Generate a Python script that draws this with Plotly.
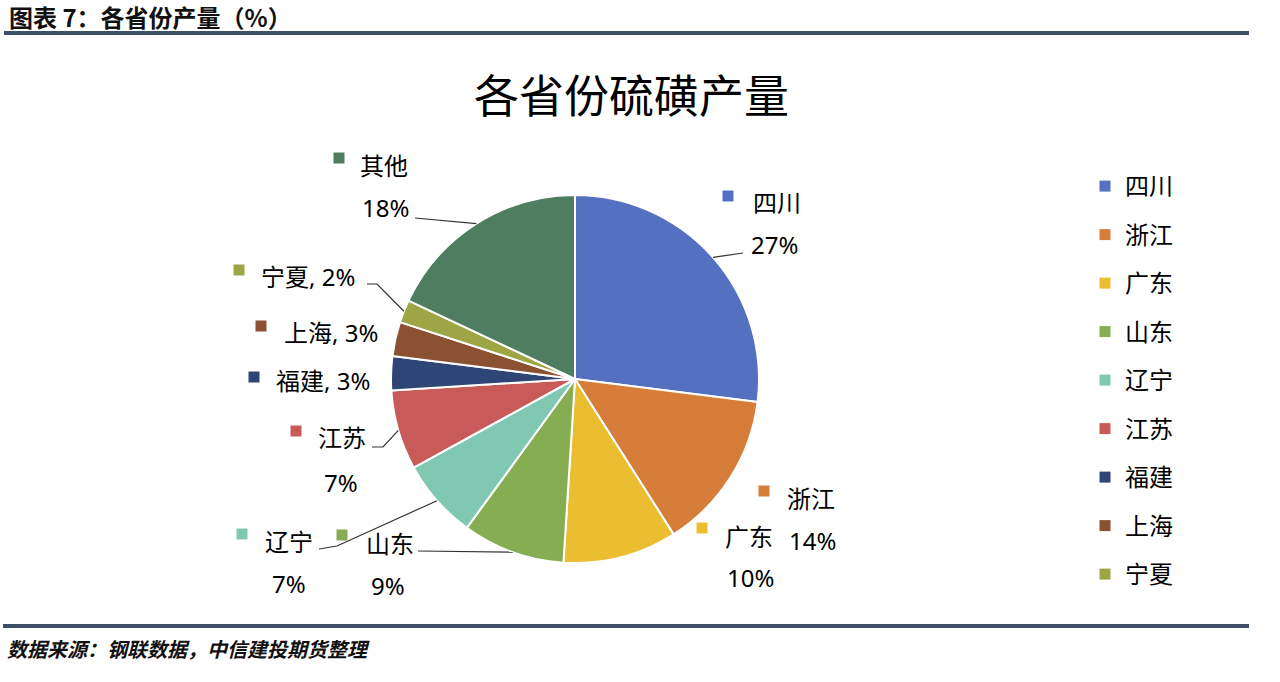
import math
import plotly.graph_objects as go

W, H = 1280, 682

# ---------------- data ----------------
provinces = ["四川", "浙江", "广东", "山东", "辽宁", "江苏", "福建", "上海", "宁夏", "其他"]
shares = [27, 14, 10, 9, 7, 7, 3, 3, 2, 18]
legend_names = ["四川", "浙江", "广东", "山东", "辽宁", "江苏", "福建", "上海", "宁夏"]

header_text = "图表 7：各省份产量（%）"
chart_title = "各省份硫磺产量"
source_text = "数据来源：钢联数据，中信建投期货整理"

# ---------------- style ----------------
colors = ["#5470C0", "#D67D3A", "#EBBE32", "#86AD52", "#80C8B1",
          "#C95A5A", "#2F4576", "#8C5133", "#9DA545", "#4F7D5F"]
CJK = "Noto Sans CJK SC"
LBL_FONT = "Noto Sans, Noto Sans CJK SC"
BAR_COLOR = "#3F4F65"

CX, CY, R = 575, 379, 184  # pie centre / radius in pixels


def px(x):
    return x / W


def py(y):
    return 1 - y / H


# label layout (pixel positions): square centre, name anchor, pct centre, leader knees
label_layout = {
    "四川": dict(sq=(728, 196), name=(751, 203), pct=(774, 244), knees=[(743, 253)]),
    "浙江": dict(sq=(764, 491), name=(785, 498), pct=(812, 540), knees=None),
    "广东": dict(sq=(702, 528), name=(723, 536), pct=(750, 577), knees=None),
    "山东": dict(sq=(342, 535), name=(364, 543), pct=(388, 585), knees=[(418, 551)]),
    "辽宁": dict(sq=(242, 534), name=(263, 541), pct=(289, 583), knees=[(319, 549), (337, 546)]),
    "江苏": dict(sq=(296, 431), name=(316, 437), pct=(341, 482), knees=[(372, 447), (383, 447)]),
    "福建": dict(sq=(254, 377), name=(274, 381), pct=None, knees=None),
    "上海": dict(sq=(261, 326), name=(282, 332), pct=None, knees=None),
    "宁夏": dict(sq=(239, 270), name=(259, 276), pct=None, knees=[(367, 284), (377, 284)]),
    "其他": dict(sq=(339, 158), name=(358, 165), pct=(385, 208), knees=[(415, 218)]),
}

fig = go.Figure()

fig.add_trace(go.Pie(
    labels=provinces, values=shares, sort=False, direction="clockwise", rotation=0,
    marker=dict(colors=colors, line=dict(color="white", width=2)),
    textinfo="none", hoverinfo="label+percent", showlegend=False,
    domain=dict(x=[px(CX - R), px(CX + R)], y=[py(CY + R), py(CY - R)]),
))

# legend entries (其他 is not shown in the reference legend)
for name in legend_names:
    c = colors[provinces.index(name)]
    fig.add_trace(go.Scatter(
        x=[None], y=[None], mode="markers", name=name, legendgroup=name,
        marker=dict(symbol="square", size=11, color=c), hoverinfo="skip",
    ))

annotations = []
shapes = []

# header / footer
annotations.append(dict(text="<b>" + header_text + "</b>", x=px(7), y=py(17), xref="paper", yref="paper",
                        xanchor="left", yanchor="middle", showarrow=False,
                        font=dict(family=CJK, size=24, color="#111111")))
annotations.append(dict(text="<b><i>" + source_text + "</i></b>", x=px(5), y=py(648), xref="paper", yref="paper",
                        xanchor="left", yanchor="middle", showarrow=False,
                        font=dict(family=CJK, size=20, color="#111111")))
shapes.append(dict(type="line", xref="paper", yref="paper", x0=px(4), x1=px(1249), y0=py(33), y1=py(33),
                   line=dict(color=BAR_COLOR, width=4)))
shapes.append(dict(type="line", xref="paper", yref="paper", x0=px(3), x1=px(1249), y0=py(626), y1=py(626),
                   line=dict(color=BAR_COLOR, width=4)))

# chart title
annotations.append(dict(text=chart_title, x=px(631), y=py(94), xref="paper", yref="paper",
                        xanchor="center", yanchor="middle", showarrow=False,
                        font=dict(family=CJK, size=45, color="#000000")))

# data labels
total = sum(shares)
cum = 0.0
for name, val, col in zip(provinces, shares, colors):
    mid = (cum + val / 2) / total
    cum += val
    lay = label_layout[name]
    pct = f"{round(100 * val / total)}%"
    sx, sy = lay["sq"]
    shapes.append(dict(type="rect", xref="paper", yref="paper",
                       x0=px(sx - 5.5), x1=px(sx + 5.5), y0=py(sy + 5.5), y1=py(sy - 5.5),
                       fillcolor=col, line=dict(width=0)))
    nx, ny = lay["name"]
    if lay["pct"] is None:
        txt = f"{name}, {pct}"
    else:
        txt = name
    annotations.append(dict(text=txt, x=px(nx), y=py(ny), xref="paper", yref="paper",
                            xanchor="left", yanchor="middle", showarrow=False,
                            font=dict(family=LBL_FONT, size=24, color="#000000")))
    if lay["pct"] is not None:
        qx, qy = lay["pct"]
        annotations.append(dict(text=pct, x=px(qx), y=py(qy), xref="paper", yref="paper",
                                xanchor="center", yanchor="middle", showarrow=False,
                                font=dict(family=LBL_FONT, size=24, color="#000000")))
    if lay["knees"]:
        ang = 2 * math.pi * mid
        ex, ey = CX + R * math.sin(ang), CY - R * math.cos(ang)
        pts = lay["knees"] + [(ex, ey)]
        path = "M " + " L ".join(f"{px(x):.5f},{py(y):.5f}" for x, y in pts)
        shapes.append(dict(type="path", xref="paper", yref="paper", path=path,
                           line=dict(color="#333333", width=1.2)))

fig.update_layout(
    width=W, height=H, margin=dict(l=0, r=0, t=0, b=0),
    paper_bgcolor="white", plot_bgcolor="white",
    xaxis=dict(visible=False), yaxis=dict(visible=False),
    showlegend=True,
    legend=dict(x=px(1085), y=py(164), xanchor="left", yanchor="top",
                font=dict(family=CJK, size=24, color="#000000"),
                tracegroupgap=14.3, itemwidth=30, bgcolor="rgba(0,0,0,0)"),
    annotations=annotations, shapes=shapes,
)

fig.write_html("out.html", config={"displayModeBar": False},
               post_script="document.body.style.margin='0';document.body.style.overflow='hidden';")
